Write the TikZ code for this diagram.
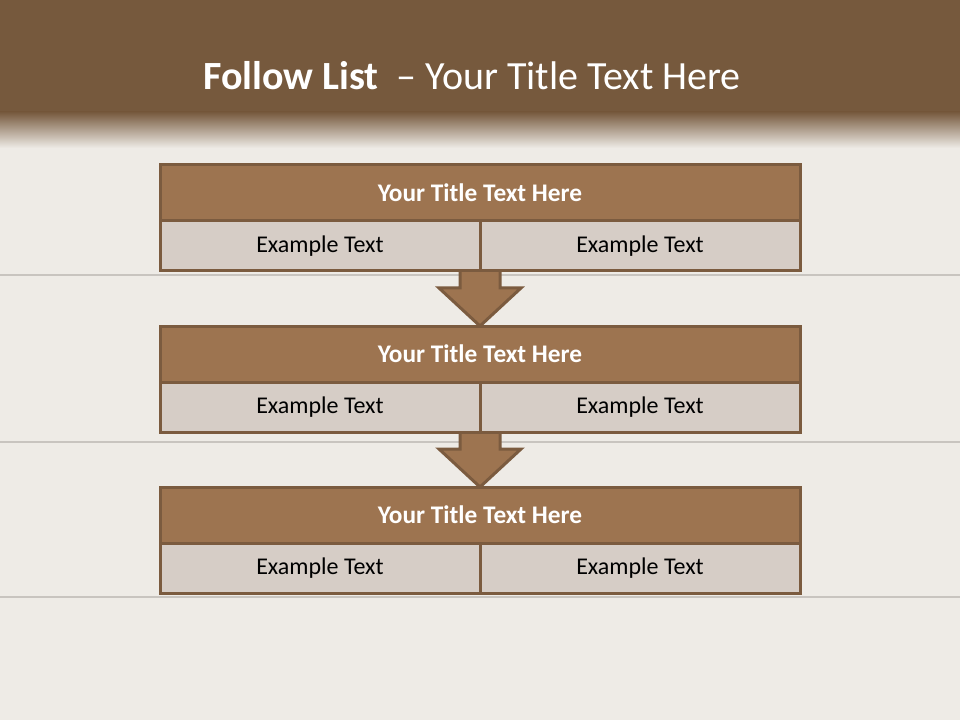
\documentclass[tikz,border=0pt]{standalone}
\usepackage{fontspec}
\setmainfont{Carlito}
\usetikzlibrary{calc}

\definecolor{hdrbrown}{HTML}{76593D}
\definecolor{titlebrown}{HTML}{9D7450}
\definecolor{edgebrown}{HTML}{7B5B3F}
\definecolor{cellgray}{HTML}{D6CDC6}
\definecolor{woodbg}{HTML}{EEEBE6}
\definecolor{seamgray}{HTML}{C8C4BF}

\pgfdeclarelayer{bg}
\pgfdeclarelayer{mid}
\pgfsetlayers{bg,mid,main}

\tikzset{
	titlebox/.style={draw=edgebrown, fill=titlebrown, line width=2.25pt,
		minimum width=480pt, minimum height=42pt, inner sep=0pt, outer sep=0pt,
		text=white, font=\fontsize{19}{22}\selectfont\bfseries},
	cellbox/.style={draw=edgebrown, fill=cellgray, line width=2.25pt,
		minimum width=240pt, minimum height=37.5pt, inner sep=0pt, outer sep=0pt,
		text=black, font=\fontsize{18}{21}\selectfont},
	flowarrow/.style={draw=edgebrown, fill=titlebrown, line width=2.25pt, line join=miter}
}

\begin{document}
\begin{tikzpicture}[x=0.75pt, y=-0.75pt]
	\useasboundingbox (0,0) rectangle (960,720);

	% wood planks and header band
	\begin{pgfonlayer}{bg}
		\fill[woodbg] (0,0) rectangle (960,720);
		\foreach \s in {275, 442, 597}
			\draw[seamgray, line width=1.5pt] (0,\s)--(960,\s);
		\fill[hdrbrown] (0,0) rectangle (960,112);
		\shade[top color=hdrbrown, bottom color=woodbg] (0,112) rectangle (960,148);
	\end{pgfonlayer}

	\node[text=white, font=\fontsize{30}{34}\selectfont] (head) at (472,76)
		{\textbf{Follow List}\ \ – Your Title Text Here};

	\foreach \i/\y in {1/165, 2/326, 3/487} {
		\node[titlebox] (t\i) at (480,\y+28) {Your Title Text Here};
		\node[cellbox, anchor=north east] (l\i) at (t\i.south) {Example Text};
		\node[cellbox, anchor=north west] (r\i) at (t\i.south) {Example Text};
	}

	\begin{pgfonlayer}{mid}
		\foreach \a/\b in {1/2, 2/3}
			\draw[flowarrow] ($(l\a.south east)+(-20,-4)$) -- ($(l\a.south east)+(-20,17)$)
				-- ($(l\a.south east)+(-41,17)$) -- (t\b.north) -- ($(l\a.south east)+(41,17)$)
				-- ($(l\a.south east)+(20,17)$) -- ($(l\a.south east)+(20,-4)$);
	\end{pgfonlayer}
\end{tikzpicture}
\end{document}
